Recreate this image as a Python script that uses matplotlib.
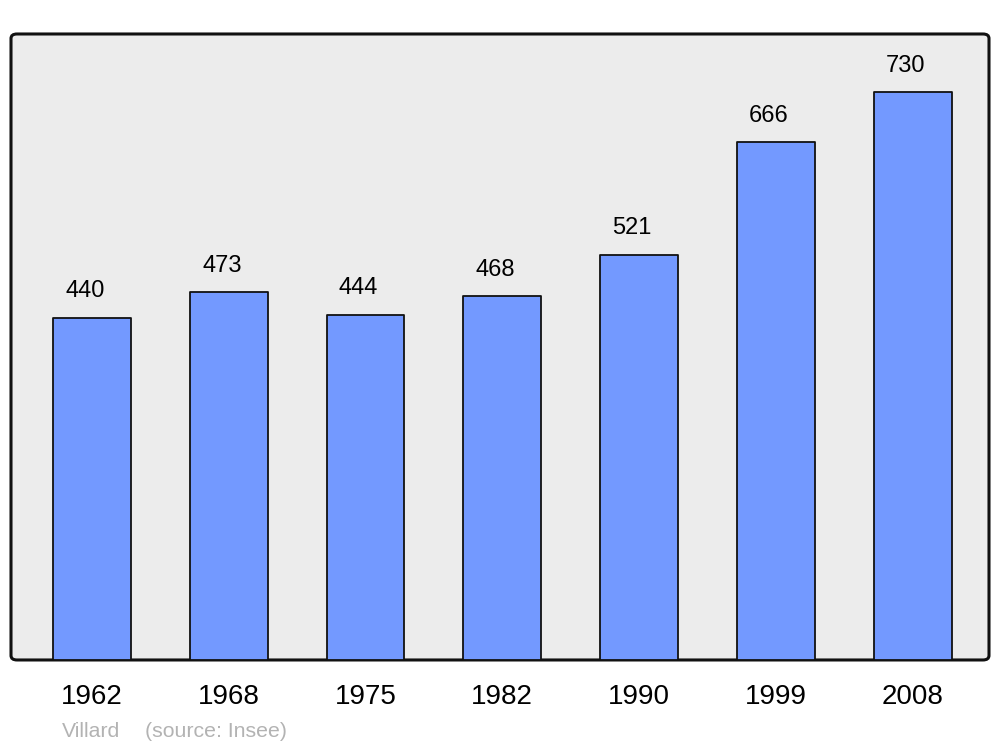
import matplotlib.pyplot as plt
from matplotlib.patches import FancyBboxPatch

years = ['1962', '1968', '1975', '1982', '1990', '1999', '2008']
population = [440, 473, 444, 468, 521, 666, 730]
town = 'Villard'
source = '(source: Insee)'

plt.rcParams['font.family'] = ['Liberation Sans', 'DejaVu Sans']

fig = plt.figure(figsize=(10, 7.47), dpi=100)
ax = fig.add_axes([0.011, 0.1165, 0.978, 0.838])
ax.set_facecolor('none')
ax.set_zorder(2)

# fond gris arrondi du cadre
frame = FancyBboxPatch((0.011, 0.1165), 0.978, 0.838,
                       boxstyle='round,pad=0,rounding_size=0.006',
                       transform=fig.transFigure, facecolor='#ececec',
                       edgecolor='#111111', linewidth=2.2, zorder=1)
fig.patches.append(frame)

x = range(len(years))
ax.bar(x, population, width=0.57, color='#7399ff', edgecolor='#111111',
       linewidth=1.3, joinstyle='round', zorder=2)

for i, v in enumerate(population):
    ax.annotate(str(v), (i, v), xytext=(-5, 19), textcoords='offset points',
                ha='center', va='center', fontsize=17, color='black')

ax.set_xlim(-0.592, 6.559)
ax.set_ylim(0, 805)
ax.set_xticks(list(x))
ax.set_xticklabels(years, fontsize=20)
ax.tick_params(axis='x', length=0, pad=17)
ax.set_yticks([])
for s in ax.spines.values():
    s.set_visible(False)

fig.text(0.062, 0.013, town, fontsize=15.3, color='#b3b3b3')
fig.text(0.145, 0.013, source, fontsize=15.3, color='#b3b3b3')

fig.savefig('out.png', dpi=100)
